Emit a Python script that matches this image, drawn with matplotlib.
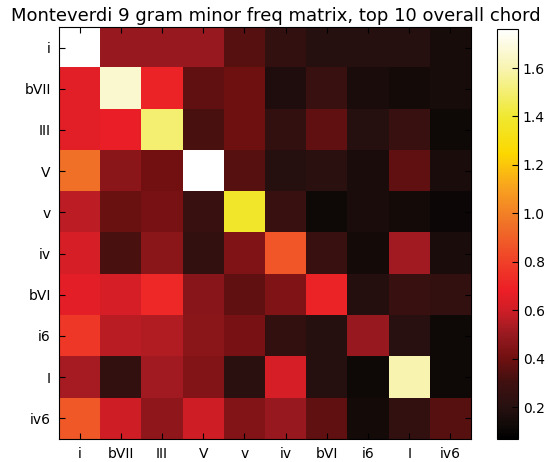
import numpy as np
import matplotlib
matplotlib.use('Agg')
import matplotlib.pyplot as plt
from matplotlib.colors import LinearSegmentedColormap

chords = ['i', 'bVII', 'III', 'V', 'v', 'iv', 'bVI', 'i6', 'I', 'iv6']

# rows = first chord, columns = following chord
row_i    = [1.76, 0.50, 0.50, 0.50, 0.35, 0.25, 0.20, 0.20, 0.20, 0.15]
row_bVII = [0.65, 1.66, 0.70, 0.37, 0.40, 0.17, 0.27, 0.16, 0.14, 0.15]
row_III  = [0.65, 0.67, 1.50, 0.32, 0.40, 0.25, 0.37, 0.20, 0.27, 0.12]
row_V    = [0.95, 0.47, 0.41, 1.76, 0.35, 0.20, 0.22, 0.16, 0.37, 0.16]
row_v    = [0.57, 0.39, 0.42, 0.27, 1.38, 0.27, 0.12, 0.16, 0.14, 0.11]
row_iv   = [0.62, 0.32, 0.47, 0.25, 0.44, 0.87, 0.27, 0.14, 0.52, 0.16]
row_bVI  = [0.66, 0.62, 0.72, 0.46, 0.37, 0.44, 0.70, 0.19, 0.27, 0.25]
row_i6   = [0.77, 0.56, 0.55, 0.47, 0.42, 0.25, 0.20, 0.50, 0.21, 0.12]
row_I    = [0.53, 0.25, 0.52, 0.45, 0.22, 0.62, 0.20, 0.12, 1.60, 0.12]
row_iv6  = [0.88, 0.60, 0.48, 0.60, 0.45, 0.50, 0.37, 0.14, 0.25, 0.35]

matrix = np.array([row_i, row_bVII, row_III, row_V, row_v,
                   row_iv, row_bVI, row_i6, row_I, row_iv6])

vmin, vmax = 0.068, 1.761

# colour scale sampled from the colour bar
anchors = [(0.068, '#000000'), (0.12, '#100a08'), (0.2, '#281010'),
           (0.3, '#401010'), (0.4, '#701010'), (0.5, '#981a20'),
           (0.6, '#d01e26'), (0.68, '#ec1e26'), (0.8, '#f04028'),
           (0.95, '#f07028'), (1.1, '#f8a020'), (1.25, '#fcd800'),
           (1.4, '#f0e830'), (1.6, '#f8f4b0'), (1.761, '#ffffff')]
cmap = LinearSegmentedColormap.from_list(
    'monte', [((v - vmin) / (vmax - vmin), c) for v, c in anchors])

fig = plt.figure(figsize=(5.48, 4.62), dpi=100)
ax = fig.add_axes([0.1077, 0.0498, 0.7518, 0.8918])
cax = fig.add_axes([0.907, 0.0498, 0.038, 0.8874])

im = ax.imshow(matrix, cmap=cmap, vmin=vmin, vmax=vmax,
               interpolation='nearest', aspect='auto')
ax.set_xticks(range(len(chords)))
ax.set_yticks(range(len(chords)))
ax.set_xticklabels(chords, fontsize=10)
ax.set_yticklabels(chords, fontsize=10)
ax.tick_params(direction='in', top=True, right=True, length=4, width=0.8, pad=6)

# title sits centred on the figure rather than the axes
fig.text(0.503, 0.955, 'Monteverdi 9 gram minor freq matrix, top 10 overall chord',
         fontsize=13, ha='center', va='baseline')

cb = fig.colorbar(im, cax=cax)
cb.set_ticks([0.2, 0.4, 0.6, 0.8, 1.0, 1.2, 1.4, 1.6])
cb.ax.tick_params(direction='in', labelsize=10, length=4)

fig.savefig('out.png', dpi=100)
